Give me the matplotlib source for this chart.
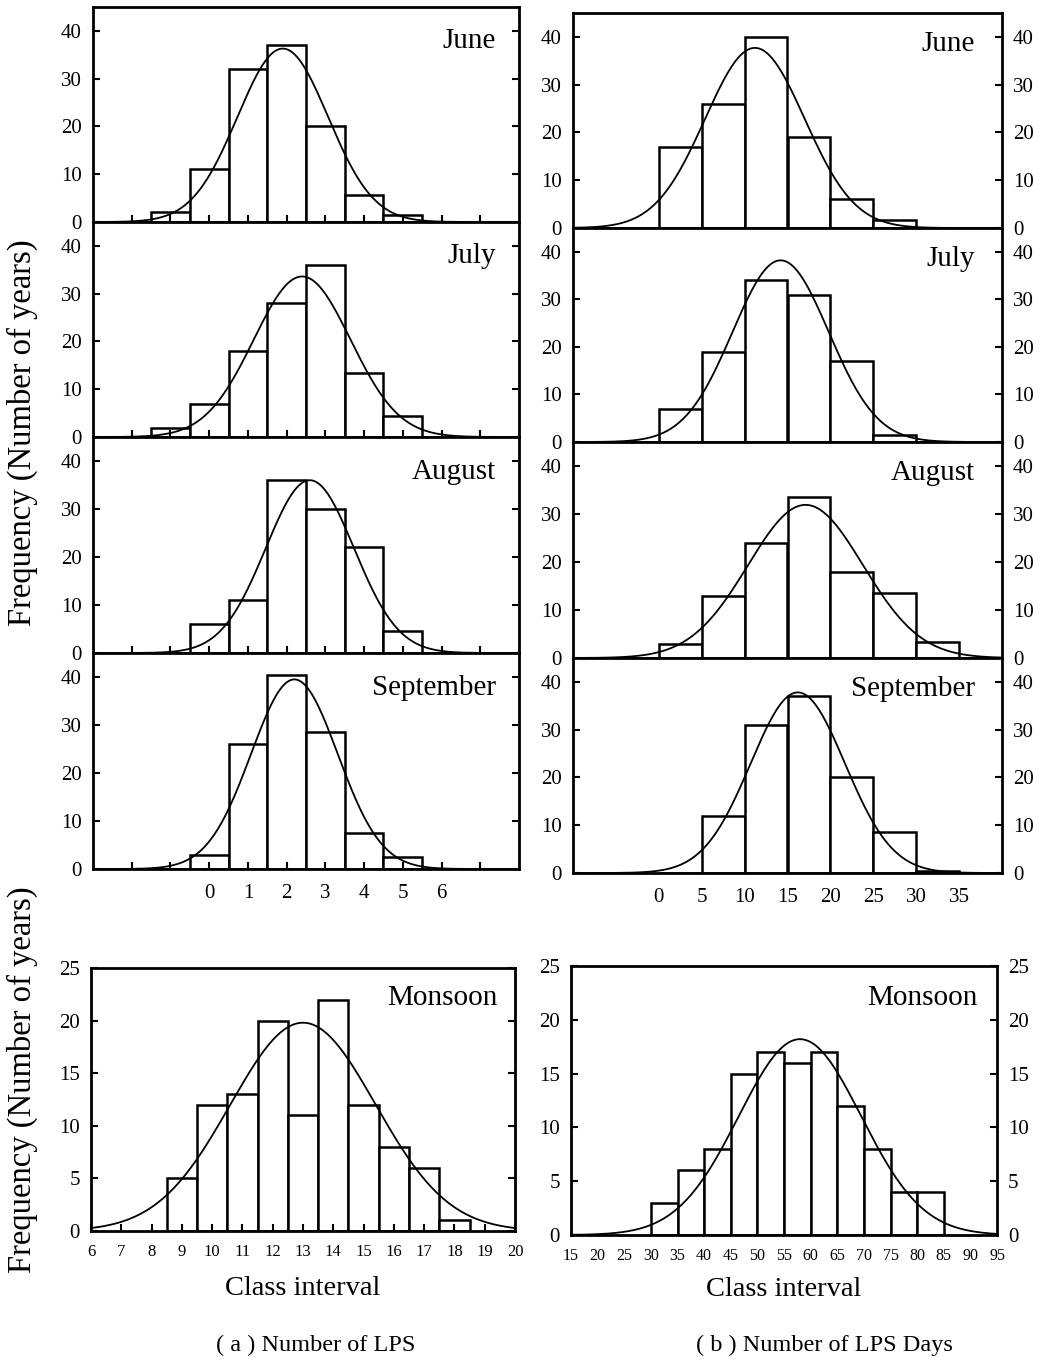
import numpy as np
import matplotlib
matplotlib.use('Agg')
import matplotlib.pyplot as plt

plt.rcParams['font.family'] = ['Liberation Serif', 'DejaVu Serif']

W, H = 1039, 1365

# ---- data ----
months = ['June', 'July', 'August', 'September']

# (a) number of LPS, classes centred on integers
lps_classes = [-1, 0, 1, 2, 3, 4, 5]
lps_june = [2, 11, 32, 37, 20, 5.7, 1.5]
lps_july = [1.8, 7, 18, 28, 36, 13.5, 4.5]
lps_aug = [0, 6, 11, 36, 30, 22, 4.5]
lps_sep = [0, 3, 26, 40.5, 28.5, 7.5, 2.5]
# fitted normal curves: mean, sd, peak height
lps_fit = [(1.9, 1.17, 36.3), (2.4, 1.25, 33.6), (2.6, 1.14, 36.0), (2.2, 1.12, 39.5)]

# (b) number of LPS days, classes 0-5, 5-10, ...
days_edges = [0, 5, 10, 15, 20, 25, 30]
days_june = [17, 26, 40, 19, 6, 1.6, 0]
days_july = [7, 19, 34, 31, 17, 1.5, 0]
days_aug = [3, 13, 24, 33.5, 18, 13.5, 3.3]
days_sep = [0, 12, 31, 37, 20, 8.5, 0.5]
days_fit = [(11.2, 5.8, 37.7), (14.2, 5.6, 38.2), (17.1, 6.7, 31.9), (16.2, 5.5, 37.8)]

# monsoon totals
mon_lps_classes = [9, 10, 11, 12, 13, 14, 15, 16, 17, 18]
mon_lps = [5, 12, 13, 20, 11, 22, 12, 8, 6, 1]
mon_lps_fit = (13.0, 2.4, 19.8)

mon_days_edges = [30, 35, 40, 45, 50, 55, 60, 65, 70, 75, 80]
mon_days = [3, 6, 8, 15, 17, 16, 17, 12, 8, 4, 4]
mon_days_fit = (58.0, 11.5, 18.2)


def gauss(x, mu, sd, peak):
    return peak * np.exp(-0.5 * ((x - mu) / sd) ** 2)


def px_axes(fig, x0, y0, x1, y1):
    return fig.add_axes([x0 / W, 1 - y1 / H, (x1 - x0) / W, (y1 - y0) / H])


def style(ax, right_labels=False, size=15):
    for s in ax.spines.values():
        s.set_linewidth(2)
    ax.tick_params(axis='y', direction='in', length=5, width=1.5, labelsize=size,
                   left=True, right=True, labelright=right_labels, pad=8)
    ax.tick_params(axis='x', direction='in', length=5, width=1.5, labelsize=size, top=False)


fig = plt.figure(figsize=(W / 100, H / 100), dpi=100)

left_rows = [(7, 222), (222, 437), (437, 653), (653, 869)]
right_rows = [(13, 228), (228, 442), (442, 658), (658, 873)]
lps_data = [lps_june, lps_july, lps_aug, lps_sep]
days_data = [days_june, days_july, days_aug, days_sep]

# left column
for i, (y0, y1) in enumerate(left_rows):
    ax = px_axes(fig, 93, y0, 519, y1)
    ax.bar(lps_classes, lps_data[i], width=1, facecolor='white', edgecolor='black', linewidth=1.8)
    xx = np.linspace(-3, 8, 400)
    ax.plot(xx, gauss(xx, *lps_fit[i]), color='black', linewidth=1.3)
    ax.set_xlim(-3, 8)
    ax.set_ylim(0, 45)
    ax.set_yticks([0, 10, 20, 30, 40])
    ax.set_xticks(range(-2, 8))
    style(ax)
    if i == 3:
        ax.set_xticklabels([str(v) if 0 <= v <= 6 else '' for v in range(-2, 8)])
        ax.tick_params(axis='x', pad=11)
    else:
        ax.set_xticklabels([])
    ax.text(0.945, 0.84, months[i], transform=ax.transAxes, ha='right', va='center', fontsize=21)

# right column
for i, (y0, y1) in enumerate(right_rows):
    ax = px_axes(fig, 573, y0, 1002, y1)
    ax.bar(days_edges, days_data[i], width=5, align='edge', facecolor='white',
           edgecolor='black', linewidth=1.8)
    xx = np.linspace(-10, 40, 400)
    ax.plot(xx, gauss(xx, *days_fit[i]), color='black', linewidth=1.3)
    ax.set_xlim(-10, 40)
    ax.set_ylim(0, 45)
    ax.set_yticks([0, 10, 20, 30, 40])
    ax.set_xticks(range(0, 40, 5))
    style(ax, right_labels=True)
    ax.tick_params(axis='x', length=0)
    if i == 3:
        ax.tick_params(axis='x', pad=11)
    else:
        ax.set_xticklabels([])
    ax.text(0.937, 0.855, months[i], transform=ax.transAxes, ha='right', va='center', fontsize=21)

# monsoon, number of LPS
ax = px_axes(fig, 91, 968, 515, 1231)
ax.bar(mon_lps_classes, mon_lps, width=1, facecolor='white', edgecolor='black', linewidth=1.8)
xx = np.linspace(6, 20, 400)
ax.plot(xx, gauss(xx, *mon_lps_fit), color='black', linewidth=1.3)
ax.set_xlim(6, 20)
ax.set_ylim(0, 25)
ax.set_yticks([0, 5, 10, 15, 20, 25])
ax.set_xticks(range(6, 21))
style(ax)
ax.tick_params(axis='x', labelsize=12, pad=9)
ax.text(0.96, 0.885, 'Monsoon', transform=ax.transAxes, ha='right', va='center', fontsize=21)
ax.set_xlabel('Class interval', fontsize=20.5, labelpad=12)

# monsoon, number of LPS days
ax = px_axes(fig, 571, 966, 997, 1235)
ax.bar(mon_days_edges, mon_days, width=5, align='edge', facecolor='white',
       edgecolor='black', linewidth=1.8)
xx = np.linspace(15, 95, 400)
ax.plot(xx, gauss(xx, *mon_days_fit), color='black', linewidth=1.3)
ax.set_xlim(15, 95)
ax.set_ylim(0, 25)
ax.set_yticks([0, 5, 10, 15, 20, 25])
ax.set_xticks(range(15, 100, 5))
style(ax, right_labels=True)
ax.tick_params(axis='x', labelsize=11.5, pad=9, length=0)
ax.text(0.955, 0.88, 'Monsoon', transform=ax.transAxes, ha='right', va='center', fontsize=21)
ax.set_xlabel('Class interval', fontsize=20.5, labelpad=10)

fig.text(22 / W, 1 - 433 / H, 'Frequency (Number of years)', rotation=90,
         ha='center', va='center', fontsize=23.5)
fig.text(22 / W, 1 - 1080 / H, 'Frequency (Number of years)', rotation=90,
         ha='center', va='center', fontsize=23.5)
fig.text(316 / W, 1 - 1345 / H, '( a ) Number of LPS', ha='center', va='center', fontsize=17.5)
fig.text(824 / W, 1 - 1345 / H, '( b ) Number of LPS Days', ha='center', va='center', fontsize=17.5)

fig.savefig('out.png', dpi=100, facecolor='white')
